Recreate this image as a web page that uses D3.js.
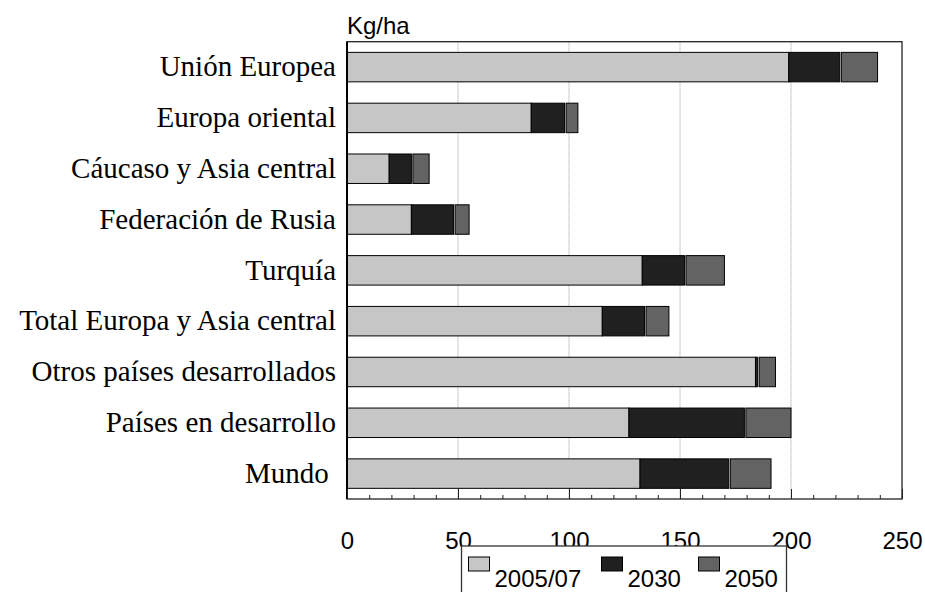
<!DOCTYPE html>
<html>
<head>
<meta charset="utf-8">
<script src="https://cdn.jsdelivr.net/npm/d3@7"></script>
<style>
    body { margin: 0; background: #fff; }
    svg { display: block; }
</style>
</head>
<body>
<svg id="chart" width="925" height="592"></svg>
<script>
    // Fertilizer use, kg/ha
    let categories = ["Unión Europea", "Europa oriental", "Cáucaso y Asia central",
        "Federación de Rusia", "Turquía", "Total Europa y Asia central",
        "Otros países desarrollados", "Países en desarrollo", "Mundo "]
    let years = ["2005/07", "2030", "2050"]
    let v2005 = [199, 83, 19, 29, 133, 115, 184, 127, 132]
    let v2030 = [222, 98, 29, 48, 152, 134, 185, 179, 172]
    let v2050 = [239, 104, 37, 55, 170, 145, 193, 200, 191]
    let xTicks = [0, 50, 100, 150, 200, 250]
    let colors = ["#c6c6c6", "#202020", "#636363"]

    let svg = d3.select("#chart")
    let plotLeft = 347, plotRight = 902, plotTop = 41.7, plotBottom = 499

    let xScale = d3.scaleLinear()
        .domain([0, 250])
        .range([plotLeft, plotRight])

    let yScale = d3.scaleBand()
        .domain(categories)
        .range([plotTop, plotBottom])
        .paddingInner(0.42)
        .paddingOuter(0.21)

    // gridlines
    svg.append("g")
        .selectAll("line")
        .data(xTicks.slice(1, -1))
        .enter()
        .append("line")
        .attr("x1", d => xScale(d))
        .attr("x2", d => xScale(d))
        .attr("y1", plotTop)
        .attr("y2", plotBottom)
        .attr("stroke", "#9a9a9a")
        .attr("stroke-width", 1)
        .attr("stroke-dasharray", "1,1")

    // bars: each row is three stacked segments
    let rows = categories.map((c, i) => ({
        cat: c,
        vals: [v2005[i], v2030[i], v2050[i]]
    }))

    rows.forEach(r => {
        r.vals.forEach((v, j) => {
            let start = j == 0 ? 0 : r.vals[j - 1]
            let gap = j == 2 ? 1.5 : 0
            svg.append("rect")
                .attr("x", xScale(start) + gap)
                .attr("y", yScale(r.cat))
                .attr("width", Math.max(0, xScale(v) - xScale(start) - gap))
                .attr("height", yScale.bandwidth())
                .attr("fill", colors[j])
                .attr("stroke", "#000")
                .attr("stroke-width", 1)
        })
    })

    // frame
    svg.append("rect")
        .attr("x", plotLeft)
        .attr("y", plotTop)
        .attr("width", plotRight - plotLeft)
        .attr("height", plotBottom - plotTop)
        .attr("fill", "none")
        .attr("stroke", "#222")
        .attr("stroke-width", 1.3)
    svg.append("line")
        .attr("x1", plotLeft).attr("x2", plotLeft)
        .attr("y1", plotTop).attr("y2", plotBottom)
        .attr("stroke", "#000")
        .attr("stroke-width", 2)

    // ticks pointing up into the plot
    let minor = svg.append("g")
        .attr("transform", "translate(0," + plotBottom + ")")
        .call(d3.axisTop(xScale).tickValues(d3.range(0, 251, 10)).tickSize(4).tickFormat(""))
    minor.select(".domain").remove()
    minor.selectAll("line").attr("stroke", "#222")

    let major = svg.append("g")
        .attr("transform", "translate(0," + plotBottom + ")")
        .call(d3.axisTop(xScale).tickValues(xTicks).tickSize(10).tickFormat(""))
    major.select(".domain").remove()
    major.selectAll("line").attr("stroke", "#222")

    let labels = svg.append("g")
        .attr("transform", "translate(0," + plotBottom + ")")
        .call(d3.axisBottom(xScale).tickValues(xTicks).tickSize(0).tickPadding(33))
    labels.select(".domain").remove()
    labels.selectAll("text")
        .attr("font-family", "'Liberation Sans', Arial, sans-serif")
        .attr("font-size", 24)
        .attr("fill", "#000")

    // unit
    svg.append("text")
        .attr("x", plotLeft)
        .attr("y", 34)
        .attr("font-family", "'Liberation Sans', Arial, sans-serif")
        .attr("font-size", 24)
        .text("Kg/ha")

    // category labels
    svg.append("g")
        .selectAll("text")
        .data(categories)
        .enter()
        .append("text")
        .attr("x", 336)
        .attr("y", d => yScale(d) + yScale.bandwidth() / 2)
        .attr("dy", "0.32em")
        .attr("text-anchor", "end")
        .style("white-space", "pre")
        .attr("font-family", "'Liberation Serif', 'Times New Roman', serif")
        .attr("font-size", 29)
        .text(d => d)

    // legend
    let legend = svg.append("g")
        .attr("transform", "translate(461.5,546)")
    legend.append("rect")
        .attr("x", 0)
        .attr("y", 0)
        .attr("width", 325)
        .attr("height", 80)
        .attr("fill", "#fff")
        .attr("stroke", "#333")
        .attr("stroke-width", 1.3)

    let itemX = [7, 140, 237]
    years.forEach((y, i) => {
        legend.append("rect")
            .attr("x", itemX[i])
            .attr("y", 11)
            .attr("width", 21)
            .attr("height", 14)
            .attr("fill", colors[i])
            .attr("stroke", "#000")
            .attr("stroke-width", 1)
        legend.append("text")
            .attr("x", itemX[i] + 26)
            .attr("y", 40.5)
            .attr("font-family", "'Liberation Sans', Arial, sans-serif")
            .attr("font-size", 24)
            .text(y)
    })
</script>
</body>
</html>
